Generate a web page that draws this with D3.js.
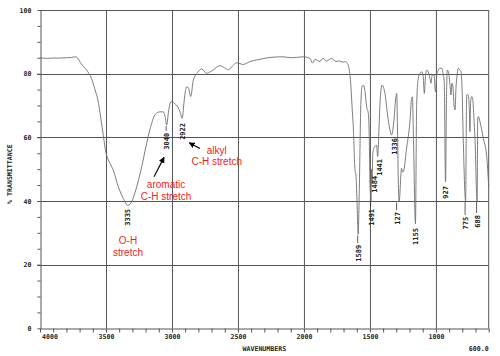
<!DOCTYPE html>
<html><head><meta charset="utf-8">
<script src="https://cdn.jsdelivr.net/npm/d3@7"></script>
<style>
html,body{margin:0;padding:0;background:#fff;}
svg{display:block;}
</style></head>
<body>
<svg id="c" width="500" height="356"></svg>
<script>
// ---- data ----
const wavenumbers = [4000,3950,3900,3850,3800,3760,3735,3715,3690,3646,3610,3583,3560,3545,3520,3500,3482,3445,3407,3369,3335,3305,3267,3229,3192,3154,3129,3091,3066,3052,3040,3025,3007,2990,2977,2955,2939,2922,2910,2901,2888,2875,2858,2838,2801,2775,2737,2710,2687,2636,2600,2573,2540,2510,2460,2409,2333,2257,2157,2100,2055,2005,1954,1934,1916,1878,1858,1828,1790,1757,1732,1706,1689,1672,1656,1644,1634,1626,1613,1606,1598,1589,1581,1570,1560,1550,1537,1525,1512,1505,1500,1491,1488,1484,1478,1465,1450,1441,1432,1422,1408,1386,1368,1348,1336,1318,1303,1297,1291,1285,1279,1260,1254,1247,1222,1197,1184,1178,1170,1155,1146,1134,1121,1108,1096,1088,1078,1068,1058,1045,1037,1028,1013,1007,1002,994,982,969,956,944,937,927,920,914,905,893,886,878,870,863,855,848,838,831,818,810,802,793,775,767,759,752,747,742,737,729,721,712,704,688,683,678,666,641,616,600];
const transmittance = [85.0,84.8,84.9,84.9,85.0,85.1,85.3,84.9,83.2,81.1,78.5,74.9,71.5,67.6,60.5,55.1,52.9,49.7,44.5,40.8,38.6,39.8,44.5,50.8,58.1,64.4,67.1,68.0,68.0,66.5,63.9,68.5,71.2,71.0,70.5,69.5,68.0,66.0,70.5,73.8,75.9,75.5,72.8,78.0,80.6,81.5,80.1,80.6,81.2,82.5,81.8,81.2,82.5,83.4,82.9,83.8,84.5,85.1,85.3,85.0,85.1,85.3,84.8,83.3,84.5,83.8,84.8,84.0,84.8,83.8,84.0,83.6,83.8,83.3,81.1,75.9,68.6,63.3,49.7,48.2,40.0,29.5,42.4,68.6,75.9,76.4,74.3,69.6,67.5,60.2,46.6,40.0,50.0,45.5,55.0,57.0,57.5,54.0,62.0,72.0,76.4,73.8,67.5,62.3,60.7,65.4,72.8,73.8,62.3,46.6,39.8,50.3,49.1,49.2,56.6,64.9,72.3,72.7,59.2,32.8,70.2,78.5,80.1,80.6,79.0,73.8,79.6,81.1,80.6,78.5,77.0,79.6,79.6,75.4,74.3,79.6,81.1,81.7,81.7,79.6,77.5,46.0,72.0,81.1,80.5,76.4,73.3,77.0,75.5,70.2,68.6,75.4,80.1,81.7,81.1,80.6,75.4,59.7,40.0,73.3,73.5,72.3,69.1,61.8,71.2,72.8,71.9,66.0,59.7,40.0,66.1,66.5,64.9,59.7,54.4,44.7];

const xMajorTicks = [4000,3500,3000,2500,2000,1500,1000];
const xEndLabel = "600.0";
const yMajorTicks = [0,20,40,60,80,100];
const xTitle = "WAVENUMBERS";
const yTitle = "% TRANSMITTANCE";

// peak labels: wavenumber of peak, printed text, transmittance where label begins
const peakWn    = [3335, 3040, 2922, 1589, 1491, 1484, 1441, 1336, 1279, 1155, 927, 775, 688];
const peakText  = ["3335","3040","2922","1589","1491","1484","1441","1336","127","1155","927","775","688"];
const peakLabelT= [37.5, 61.4, 64.5, 26.2, 37.5, 47.9, 53.2, 59.8, 36.5, 31.5, 44.7, 35.0, 35.6];
const peakMinT  = [38.6, 63.9, 66.0, 29.5, 40.0, 45.5, 54.0, 60.7, 39.8, 32.8, 46.0, 40.0, 40.0];

// annotations (red)
const annoLines = [["O-H","stretch"],["aromatic","C-H stretch"],["alkyl","C-H stretch"]];
const annoWn = [3333, 3045, 2661];
const annoT  = [27.6, 45.2, 56.0];
// arrows: from (wn,T) to (wn,T)
const arrowFrom = [[3136,47.6],[2788,56.5]];
const arrowTo   = [[3060,53.7],[2869,58.3]];

// ---- drawing ----
const svg = d3.select("#c");
const x = d3.scaleLinear().domain([4000,600]).range([40,488.7]);
const y = d3.scaleLinear().domain([0,100]).range([328.3,10]);
const gridColor = "#555";
const mono = "'DejaVu Sans Mono', 'Liberation Mono', monospace";

const g = svg.append("g");

// grid
g.selectAll("line.vg").data(xMajorTicks.slice(1)).join("line")
  .attr("x1", d=>x(d)+0.5).attr("x2", d=>x(d)+0.5)
  .attr("y1", y(100)).attr("y2", y(0))
  .attr("stroke", gridColor).attr("stroke-width", 1);
g.selectAll("line.hg").data(yMajorTicks.filter(d=>d>0 && d<100)).join("line")
  .attr("x1", x(4000)-3).attr("x2", x(600))
  .attr("y1", d=>Math.round(y(d))+0.5).attr("y2", d=>Math.round(y(d))+0.5)
  .attr("stroke", gridColor).attr("stroke-width", 1);
// frame top/right
g.append("line").attr("x1", x(4000)).attr("x2", x(600)).attr("y1", Math.round(y(100))+0.5).attr("y2", Math.round(y(100))+0.5).attr("stroke", gridColor);
g.append("line").attr("x1", x(600)).attr("x2", x(600)).attr("y1", y(100)).attr("y2", y(0)).attr("stroke", gridColor);

// x axis (minor ticks + baseline)
const xa = g.append("g").attr("transform", `translate(0,${Math.round(y(0))+0.5})`)
  .call(d3.axisBottom(x).tickValues(d3.range(4000, 599, -100)).tickSize(4).tickSizeOuter(0).tickFormat(""));
xa.selectAll("path,line").attr("stroke", gridColor);
// x labels
const xl = g.append("g").attr("transform", `translate(0,${Math.round(y(0))})`)
  .call(d3.axisBottom(x).tickValues(xMajorTicks).tickSize(0).tickPadding(6).tickFormat(d=>String(d)));
xl.select(".domain").remove();
xl.selectAll("text").attr("font-family", mono).attr("font-size", 6.6).attr("fill", "#222").attr("font-weight","bold");
xl.selectAll(".tick").filter(d=>d===4000).select("text").attr("text-anchor","start").attr("x", 1.5);

// y axis
const ya = g.append("g").attr("transform", `translate(${x(4000)+0.5},0)`)
  .call(d3.axisLeft(y).tickValues(d3.range(0,101,5)).tickSize(3).tickSizeOuter(0).tickPadding(6)
    .tickFormat(d => d % 20 === 0 ? String(d) : ""));
ya.selectAll("path,line").attr("stroke", gridColor);
ya.selectAll("text").attr("font-family", mono).attr("font-size", 6.6).attr("fill", "#222").attr("font-weight","bold");

// titles
g.append("text").attr("x", (x(4000)+x(600))/2).attr("y", 351)
  .attr("text-anchor","middle").attr("font-family", mono).attr("font-size", 6.6).attr("font-weight","bold").attr("fill","#222").text(xTitle);
g.append("text").attr("x", x(600)).attr("y", 351)
  .attr("text-anchor","end").attr("font-family", mono).attr("font-size", 6.6).attr("font-weight","bold").attr("fill","#222").text(xEndLabel);
g.append("text").attr("transform", `translate(10,${(y(100)+y(0))/2+5}) rotate(-90)`)
  .attr("text-anchor","middle").attr("dy","0.35em").attr("font-family", mono).attr("font-size", 6.6).attr("font-weight","bold").attr("fill","#222").text(yTitle);

// spectrum
const pts = wavenumbers.map((w,i)=>[w, transmittance[i]]);
const line = d3.line().x(d=>x(d[0])).y(d=>y(d[1])).curve(d3.curveMonotoneX);
g.append("path").datum(pts).attr("d", line)
  .attr("fill","none").attr("stroke","#6e6e6e").attr("stroke-width",0.9).attr("stroke-linejoin","round");

// peak labels with tick lines
const labelShift = {"1484": 2.5, "1441": 1.5, "1336": 2.5, "127": -2};
peakWn.forEach((w,i)=>{
  const px = x(w) + (labelShift[peakText[i]] || 0);
  const yTop = y(peakLabelT[i]);
  const yMin = y(peakMinT[i]);
  if (yTop - yMin > 5) {
    g.append("line").attr("x1", px-0.5).attr("x2", px-0.5).attr("y1", yMin+1).attr("y2", yTop-2)
      .attr("stroke","#333").attr("stroke-width",0.8);
  }
  g.append("text").attr("transform", `translate(${px},${yTop}) rotate(-90)`)
    .attr("text-anchor","end").attr("dy","0.35em")
    .attr("font-family", mono).attr("font-size", 7).attr("font-weight","bold").attr("fill","#222")
    .text(peakText[i]);
});

// annotations
annoLines.forEach((ls,i)=>{
  ls.forEach((t,j)=>{
    g.append("text").attr("x", x(annoWn[i])).attr("y", y(annoT[i]) + j*11.7)
      .attr("dy","0.35em").attr("text-anchor","middle")
      .attr("font-family","'Liberation Sans', Arial, sans-serif").attr("font-size",10)
      .attr("fill","#f01c1c").text(t);
  });
});

// arrows
svg.append("defs").append("marker").attr("id","ah").attr("viewBox","0 0 10 10")
  .attr("refX",9).attr("refY",5).attr("markerWidth",6).attr("markerHeight",6)
  .attr("markerUnits","userSpaceOnUse").attr("orient","auto")
  .append("path").attr("d","M0,0 L10,5 L0,10 z").attr("fill","#000");
arrowFrom.forEach((f,i)=>{
  const t = arrowTo[i];
  g.append("line").attr("x1", x(f[0])).attr("y1", y(f[1])).attr("x2", x(t[0])).attr("y2", y(t[1]))
    .attr("stroke","#000").attr("stroke-width",1.1).attr("marker-end","url(#ah)");
});
</script>
</body></html>
